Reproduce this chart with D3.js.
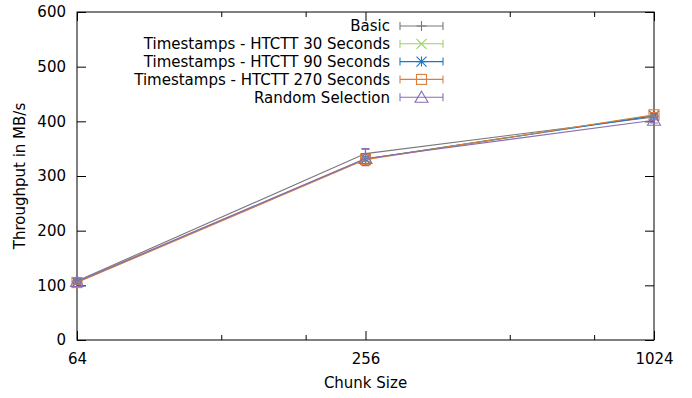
<!DOCTYPE html>
<html>
<head>
<meta charset="utf-8">
<script src="https://cdn.jsdelivr.net/npm/d3@7"></script>
<style>
  body { margin: 0; background: #fff; }
  text { font-family: "DejaVu Sans", sans-serif; fill: #000; }
</style>
</head>
<body>
<div id="chart"></div>
<script>
// chunk sizes on the x axis (log base 4)
var chunks = [64, 256, 1024];
var xMinor = [128, 192, 512, 768];
var yTicks = [0, 100, 200, 300, 400, 500, 600];

var seriesNames = ["Basic", "Timestamps - HTCTT 30 Seconds", "Timestamps - HTCTT 90 Seconds",
                   "Timestamps - HTCTT 270 Seconds", "Random Selection"];
var basicVals = [108, 341, 408];
var basicLow  = [104, 333, 403];
var basicHigh = [112, 349, 413];
var ts30Vals  = [106, 331, 411];
var ts30Low   = [103, 327, 407];
var ts30High  = [109, 335, 415];
var ts90Vals  = [106, 331, 410];
var ts90Low   = [103, 327, 406];
var ts90High  = [109, 335, 414];
var ts270Vals = [105, 330, 412];
var ts270Low  = [102, 326, 408];
var ts270High = [108, 334, 416];
var randVals  = [107, 332, 402];
var randLow   = [103, 319, 397];
var randHigh  = [111, 350, 407];

var colors = ["#787878", "#9fcf6a", "#1c79c0", "#dd7d3c", "#8a6db4"];
var shapes = ["plus", "cross", "star", "square", "triangle"];

var series = [
  {vals: basicVals, low: basicLow, high: basicHigh},
  {vals: ts30Vals, low: ts30Low, high: ts30High},
  {vals: ts90Vals, low: ts90Low, high: ts90High},
  {vals: ts270Vals, low: ts270Low, high: ts270High},
  {vals: randVals, low: randLow, high: randHigh}
];
series.forEach(function(s, i) { s.name = seriesNames[i]; s.color = colors[i]; s.shape = shapes[i]; });

var W = 692, H = 398;
var margin = {top: 12, right: 38, bottom: 58, left: 77};
var width = W - margin.left - margin.right,
    height = H - margin.top - margin.bottom;
var fs = "15px";

var svg = d3.select("#chart").append("svg")
    .attr("width", W).attr("height", H);
var g = svg.append("g")
    .attr("transform", "translate(" + margin.left + "," + margin.top + ")");

var x = d3.scaleLog().base(4).domain([64, 1024]).range([0, width]);
var y = d3.scaleLinear().domain([0, 600]).range([height, 0]);

// axes, gnuplot style: ticks pointing inward, mirrored
function styleAxis(sel) {
  sel.select(".domain").remove();
  sel.selectAll("line").attr("stroke", "#000");
  sel.selectAll("text").style("font-size", fs);
}
g.append("g").attr("transform", "translate(0," + height + ")")
  .call(d3.axisBottom(x).tickValues(chunks).tickFormat(d3.format("d")).tickSize(-9).tickPadding(13))
  .call(styleAxis);
g.append("g").attr("transform", "translate(0," + height + ")")
  .call(d3.axisBottom(x).tickValues(xMinor).tickFormat("").tickSize(-5))
  .call(styleAxis);
g.append("g")
  .call(d3.axisTop(x).tickValues(chunks).tickFormat("").tickSize(-9))
  .call(styleAxis);
g.append("g")
  .call(d3.axisTop(x).tickValues(xMinor).tickFormat("").tickSize(-5))
  .call(styleAxis);
g.append("g")
  .call(d3.axisLeft(y).tickValues(yTicks).tickSize(-9).tickPadding(11))
  .call(styleAxis);
g.append("g").attr("transform", "translate(" + width + ",0)")
  .call(d3.axisRight(y).tickValues(yTicks).tickFormat("").tickSize(-9))
  .call(styleAxis);

g.append("rect").attr("width", width).attr("height", height)
  .attr("fill", "none").attr("stroke", "#000").attr("stroke-width", 1);

// axis titles
svg.append("text").attr("x", margin.left + width / 2).attr("y", 388)
  .attr("text-anchor", "middle").style("font-size", fs).text("Chunk Size");
svg.append("text").attr("transform", "translate(25," + (margin.top + height / 2) + ") rotate(-90)")
  .attr("text-anchor", "middle").style("font-size", fs).text("Throughput in MB/s");

// point symbols
function drawSymbol(sel, shape, cx, cy, color) {
  var r = 5;
  if (shape === "plus") {
    sel.append("path").attr("d", "M" + (cx - r) + "," + cy + "H" + (cx + r) + "M" + cx + "," + (cy - r) + "V" + (cy + r));
  } else if (shape === "cross") {
    sel.append("path").attr("d", "M" + (cx - r) + "," + (cy - r) + "L" + (cx + r) + "," + (cy + r) +
      "M" + (cx - r) + "," + (cy + r) + "L" + (cx + r) + "," + (cy - r));
  } else if (shape === "star") {
    sel.append("path").attr("d", "M" + (cx - r) + "," + cy + "H" + (cx + r) + "M" + cx + "," + (cy - r) + "V" + (cy + r) +
      "M" + (cx - r) + "," + (cy - r) + "L" + (cx + r) + "," + (cy + r) +
      "M" + (cx - r) + "," + (cy + r) + "L" + (cx + r) + "," + (cy - r));
  } else if (shape === "square") {
    sel.append("rect").attr("x", cx - r).attr("y", cy - r).attr("width", 2 * r).attr("height", 2 * r);
  } else if (shape === "triangle") {
    sel.append("path").attr("d", "M" + cx + "," + (cy - 6) + "L" + (cx + 6.5) + "," + (cy + 5) + "L" + (cx - 6.5) + "," + (cy + 5) + "Z");
  }
  sel.selectAll("*").attr("stroke", color).attr("fill", "none").attr("stroke-width", 1.1);
}

var line = d3.line()
  .x(function(d) { return x(d.c); })
  .y(function(d) { return y(d.v); });

series.forEach(function(s) {
  var pts = chunks.map(function(c, i) { return {c: c, v: s.vals[i], lo: s.low[i], hi: s.high[i]}; });
  var sg = g.append("g");
  sg.append("path").attr("d", line(pts)).attr("fill", "none").attr("stroke", s.color).attr("stroke-width", 1.1);
  pts.forEach(function(p) {
    var px = x(p.c);
    sg.append("path")
      .attr("d", "M" + px + "," + y(p.lo) + "V" + y(p.hi) +
        "M" + (px - 4) + "," + y(p.lo) + "H" + (px + 4) +
        "M" + (px - 4) + "," + y(p.hi) + "H" + (px + 4))
      .attr("stroke", s.color).attr("fill", "none").attr("stroke-width", 1.1);
    drawSymbol(sg.append("g"), s.shape, px, y(p.v), s.color);
  });
});

// legend
var legend = svg.append("g");
series.forEach(function(s, i) {
  var ly = 26 + i * 17.8;
  legend.append("text").attr("x", 390).attr("y", ly).attr("dy", "0.36em")
    .attr("text-anchor", "end").style("font-size", fs).text(s.name);
  legend.append("path")
    .attr("d", "M400," + ly + "H443M400," + (ly - 4) + "V" + (ly + 4) + "M443," + (ly - 4) + "V" + (ly + 4))
    .attr("stroke", s.color).attr("fill", "none").attr("stroke-width", 1.1);
  drawSymbol(legend.append("g"), s.shape, 421.5, ly, s.color);
});
</script>
</body>
</html>
